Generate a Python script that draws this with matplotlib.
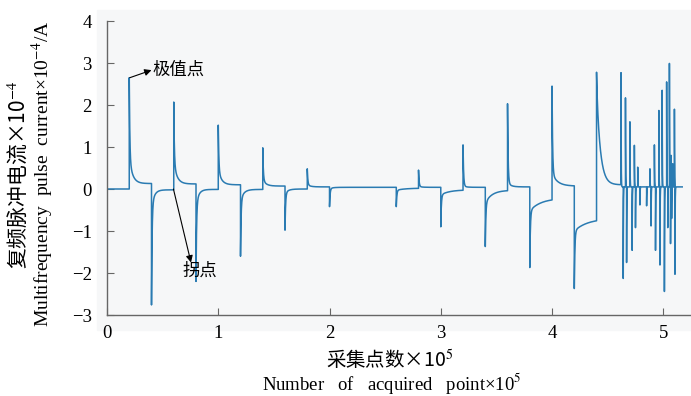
import numpy as np
import matplotlib
matplotlib.use("Agg")
import matplotlib.pyplot as plt
from matplotlib.patches import Rectangle

plt.rcParams['mathtext.fontset'] = 'stix'

# main pulses: position (x10^5), peak value, settled level, slow tail amplitude, slow tail time constant
pulse_x = [0.2, 0.4, 0.6, 0.8, 1.0, 1.2, 1.4, 1.6, 1.8, 2.0,
           2.6, 2.8, 3.0, 3.2, 3.4, 3.6, 3.8, 4.0, 4.2, 4.4]
pulse_peak = [2.65, -2.76, 2.07, -2.2, 1.52, -1.6, 0.98, -0.98, 0.48, -0.42,
              -0.42, 0.45, -0.9, 1.05, -1.37, 2.03, -1.87, 2.45, -2.37, 2.78]
pulse_level = [0.13, -0.02, 0.12, -0.01, 0.1, -0.01, 0.07, 0.0, 0.05, 0.04,
               0.02, 0.04, -0.02, 0.04, -0.03, 0.05, -0.22, 0.07, -0.7, 0.1]
pulse_tail = [0.6, -0.4, 0.5, -0.35, 0.35, -0.25, 0.15, -0.1, 0.05, -0.03,
              -0.05, 0.02, -0.12, 0.03, -0.3, 0.1, -0.3, 0.3, -0.3, 2.4]
pulse_tau = [0.03, 0.025, 0.03, 0.025, 0.03, 0.03, 0.03, 0.03, 0.03, 0.03,
             0.08, 0.03, 0.08, 0.03, 0.06, 0.03, 0.1, 0.05, 0.12, 0.033]

# burst of short pulses at the end
burst_x = [4.62, 4.64, 4.66, 4.67, 4.70, 4.72, 4.74, 4.75, 4.77, 4.79,
           4.85, 4.88, 4.89, 4.92, 4.93, 4.96, 4.97, 4.99, 5.01, 5.03,
           5.04, 5.055, 5.065, 5.07, 5.075, 5.085, 5.10, 5.105]
burst_peak = [2.77, -2.13, 2.17, -1.75, 1.6, -1.46, 1.04, -0.92, 0.52, -0.38,
              -0.4, 0.48, -0.88, 1.05, -1.46, 1.87, -1.81, 2.35, -2.44, 2.55,
              -0.92, 2.99, -1.3, 0.8, -0.7, 0.6, 1.9, -2.03]
burst_level = 0.05
signal_end = 5.17

x_ticks = [0, 1, 2, 3, 4, 5]
y_ticks = [-3, -2, -1, 0, 1, 2, 3, 4]


def build_signal():
    ex = pulse_x + burst_x
    ep = pulse_peak + burst_peak
    el = pulse_level + [burst_level] * len(burst_x)
    et = pulse_tail + [0.0] * len(burst_x)
    es = pulse_tau + [0.01] * len(burst_x)
    ef = [0.005] * len(pulse_x) + [0.0015] * len(burst_x)
    xs = [0.0, ex[0]]
    ys = [0.0, 0.0]
    for i in range(len(ex)):
        x_next = ex[i + 1] if i + 1 < len(ex) else signal_end
        t = np.linspace(0, x_next - ex[i], 600)
        fast = ep[i] - el[i] - et[i]
        y = el[i] + fast * np.exp(-t / ef[i]) + et[i] * np.exp(-t / es[i])
        xs.extend(ex[i] + t)
        ys.extend(y)
    return np.array(xs), np.array(ys)


fig = plt.figure(figsize=(6.91, 3.96), dpi=100)
fig.patches.append(Rectangle((97 / 691, 66 / 396), 594 / 691, 320 / 396,
                             transform=fig.transFigure, color='#f6f7f8', zorder=-1))
ax = fig.add_axes([107 / 691, 81 / 396, 583 / 691, 294 / 396])
ax.set_facecolor('none')
ax.set_zorder(1)

xs, ys = build_signal()
ax.plot(xs, ys, color='#2a7bb2', lw=1.1)

ax.set_xlim(0, 5.24)
ax.set_ylim(-3, 4)
ax.set_xticks(x_ticks)
ax.set_yticks(y_ticks)
for s in ['top', 'right']:
    ax.spines[s].set_visible(False)
for s in ['left', 'bottom']:
    ax.spines[s].set_color('#666666')
    ax.spines[s].set_linewidth(1.0)
ax.tick_params(direction='in', length=5, color='#666666', labelsize=13.5)
ax.tick_params(axis='y', pad=11)
ax.tick_params(axis='x', pad=7)
for lab in ax.get_xticklabels() + ax.get_yticklabels():
    lab.set_fontfamily('Liberation Serif')

# annotations
arrow = dict(arrowstyle='-|>', color='black', lw=0.8, mutation_scale=10, shrinkA=0, shrinkB=0)
ax.annotate('', xy=(0.40, 2.83), xytext=(0.205, 2.65), arrowprops=arrow)
ax.text(0.405, 2.83, '极值点', fontsize=12.5, family='Noto Sans CJK SC', ha='left', va='center')
ax.annotate('', xy=(0.755, -1.75), xytext=(0.597, 0.0), arrowprops=arrow)
ax.text(0.68, -1.95, '拐点', fontsize=12.5, family='Noto Sans CJK SC', ha='left', va='center')

# axis labels (two lines, Chinese and English)
fig.text(390 / 691, 1 - 360 / 396, '采集点数×10$^{5}$', fontsize=14,
         family='Noto Sans CJK SC', ha='center', va='center')
fig.text(392 / 691, 1 - 383 / 396, 'Number   of   acquired   point×10$^{5}$', fontsize=13.5,
         family='Liberation Serif', ha='center', va='center')
fig.text(18 / 691, 1 - 175 / 396, '复频脉冲电流×10$^{-4}$', fontsize=15,
         family='Noto Sans CJK SC', ha='center', va='center', rotation=90)
fig.text(43 / 691, 1 - 174 / 396, 'Multifrequency  pulse  current×10$^{-4}$/A', fontsize=14,
         family='Liberation Serif', ha='center', va='center', rotation=90)

fig.savefig('out.png', dpi=100)
